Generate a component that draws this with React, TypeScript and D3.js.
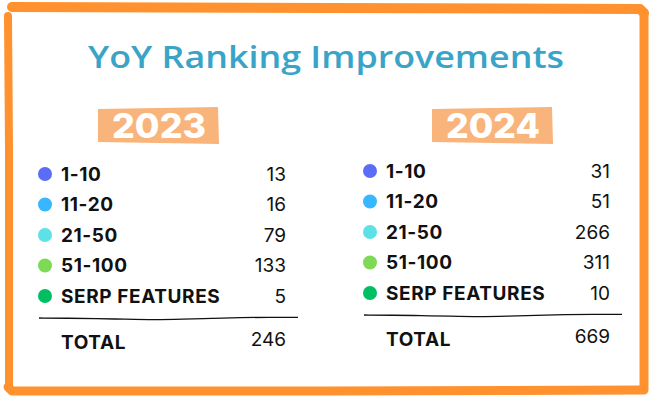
import React from 'react';
import * as d3 from 'd3';

const W = 653;
const H = 400;

// chart data
const title = 'YoY Ranking Improvements';
const categories = ['1-10', '11-20', '21-50', '51-100', 'SERP FEATURES'];
const dotColors = ['#5B6CF7', '#38B6FF', '#5CE1E6', '#7ED957', '#00BF63'];
const years = ['2023', '2024'];
const values2023 = [13, 16, 79, 133, 5];
const values2024 = [31, 51, 266, 311, 10];
const totalLabel = 'TOTAL';

const labelFont = 'Inter, "Liberation Sans", sans-serif';

function Panel({ year, values, x0, x1, yTop, yBottom, boxX }) {
  const y = d3.scalePoint().domain(categories).range([yTop, yBottom]);
  const color = d3.scaleOrdinal().domain(categories).range(dotColors);
  const total = d3.sum(values);
  const ruleY = yBottom + 22;
  // hand drawn rule under the rows
  const wobble = [0, 0.2, 0.6, 1.2, 1.8, 1.2, 0.3, -0.4, -0.8, -0.6];
  const rx = d3.scaleLinear().domain([0, wobble.length - 1]).range([x0 - 22, x1 + 12]);
  const rule = d3.line().curve(d3.curveBasis)(wobble.map((d, i) => [rx(i), ruleY + d]));
  const boxW = 120;
  return (
    <g>
      <polygon
        points={`${boxX},${109} ${boxX + boxW},${107} ${boxX + boxW + 1},${144} ${boxX},${142}`}
        fill="#F8B47A"
      />
      <text x={boxX + boxW / 2 + 1} y={138} textAnchor="middle" fill="#fff"
        fontFamily='Inter, "Liberation Sans", sans-serif' fontWeight={800} fontSize={34}
        textLength={94} lengthAdjust="spacingAndGlyphs">{year}</text>
      {categories.map((c, i) => (
        <g key={c}>
          <circle cx={x0 - 16} cy={y(c)} r={7} fill={color(c)} />
          <text x={x0} y={y(c)} dy="0.36em" fontFamily={labelFont} fontWeight={700} fontSize={19}
            letterSpacing={0.6} fill="#111">{c}</text>
          <text x={x1} y={y(c)} dy="0.36em" textAnchor="end" fontFamily={labelFont} fontWeight={400}
            fontSize={19} fill="#111">{values[i]}</text>
        </g>
      ))}
      <path d={rule} fill="none" stroke="#111" strokeWidth={1.3} />
      <text x={x0} y={ruleY + 31} fontFamily={labelFont} fontWeight={700} fontSize={19}
        letterSpacing={0.6} fill="#111">{totalLabel}</text>
      <text x={x1} y={ruleY + 28} textAnchor="end" fontFamily={labelFont} fontWeight={400}
        fontSize={19} fill="#111">{total}</text>
    </g>
  );
}

export default function App() {
  const border = d3.line().curve(d3.curveLinear);
  return (
    <svg width={W} height={H} style={{ position: 'absolute', left: 0, top: 0, background: '#fff' }}>
      <g fill="none" stroke="#FF912E" strokeLinecap="round" strokeLinejoin="round">
        <path d={border([[12, 7], [330, 8], [640, 9], [644, 13]])} strokeWidth={10} />
        <path d={border([[644, 13], [644, 200], [644, 388]])} strokeWidth={9} />
        <path d={border([[644, 390], [330, 391], [12, 391], [8, 387]])} strokeWidth={9} />
        <path d={border([[9, 388], [9, 150], [8, 16]])} strokeWidth={8} />
      </g>
      <text x={326} y={68} textAnchor="middle" fill="#3AA4C8"
        fontFamily='"Open Sans", sans-serif' fontWeight={600} fontSize={31}
        textLength={476} lengthAdjust="spacingAndGlyphs">{title}</text>
      <Panel year={years[0]} values={values2023} x0={61} x1={286} yTop={174} yBottom={296} boxX={98} />
      <Panel year={years[1]} values={values2024} x0={386} x1={610} yTop={171} yBottom={293} boxX={432} />
    </svg>
  );
}
